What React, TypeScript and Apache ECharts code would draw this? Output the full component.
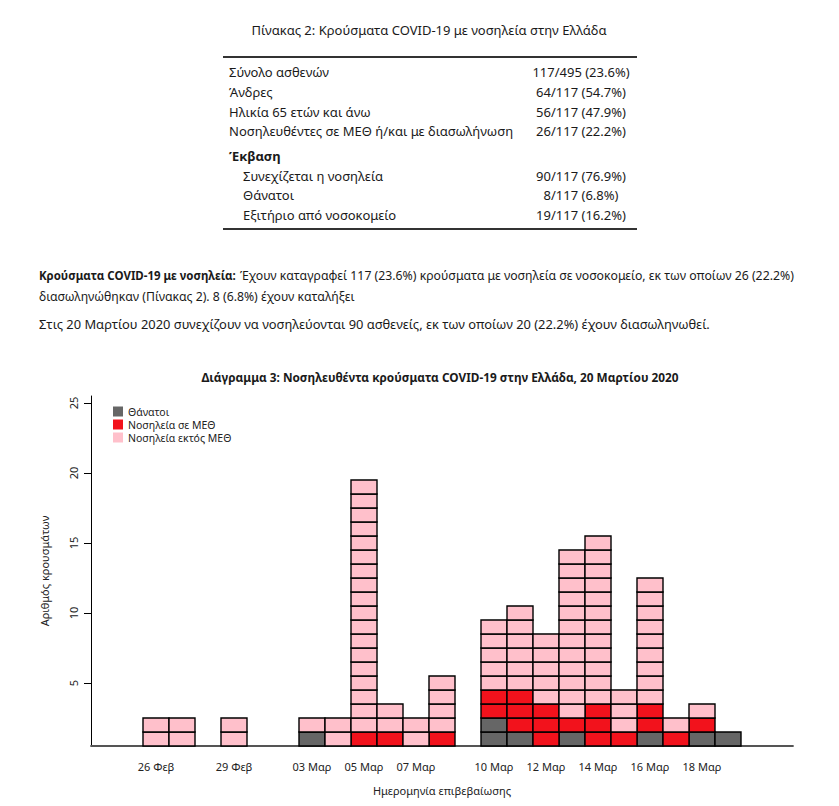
import React, { useEffect, useRef } from "react";
import * as echarts from "echarts";

const FONT = "'Noto Sans', 'Open Sans', sans-serif";

const dates = ["24 Φεβ", "25 Φεβ", "26 Φεβ", "27 Φεβ", "28 Φεβ", "29 Φεβ", "01 Μαρ", "02 Μαρ", "03 Μαρ", "04 Μαρ", "05 Μαρ", "06 Μαρ", "07 Μαρ", "08 Μαρ", "09 Μαρ", "10 Μαρ", "11 Μαρ", "12 Μαρ", "13 Μαρ", "14 Μαρ", "15 Μαρ", "16 Μαρ", "17 Μαρ", "18 Μαρ", "19 Μαρ", "20 Μαρ", "21 Μαρ"];
const shownLabels = ["26 Φεβ", "29 Φεβ", "03 Μαρ", "05 Μαρ", "07 Μαρ", "10 Μαρ", "12 Μαρ", "14 Μαρ", "16 Μαρ", "18 Μαρ"];
const deaths = [0, 0, 0, 0, 0, 0, 0, 0, 1, 0, 0, 0, 0, 0, 0, 2, 1, 0, 1, 0, 0, 1, 0, 1, 1, 0, 0];
const icu = [0, 0, 0, 0, 0, 0, 0, 0, 0, 0, 1, 1, 0, 1, 0, 2, 3, 3, 1, 3, 1, 2, 1, 1, 0, 0, 0];
const nonIcu = [0, 0, 2, 2, 0, 2, 0, 0, 1, 2, 18, 2, 2, 4, 0, 5, 6, 5, 12, 12, 3, 9, 1, 1, 0, 0, 0];
const yTicks = [5, 10, 15, 20, 25];

const seriesNames = ["Θάνατοι", "Νοσηλεία σε ΜΕΘ", "Νοσηλεία εκτός ΜΕΘ"];
const seriesColors = ["#666666", "#F2121C", "#FFC0CB"];

const tableTitle = "Πίνακας 2: Κρούσματα COVID-19 με νοσηλεία στην Ελλάδα";
const tableLabels = ["Σύνολο ασθενών", "Άνδρες", "Ηλικία 65 ετών και άνω", "Νοσηλευθέντες σε ΜΕΘ ή/και με διασωλήνωση", "Έκβαση", "Συνεχίζεται η νοσηλεία", "Θάνατοι", "Εξιτήριο από νοσοκομείο"];
const tableValues = ["117/495 (23.6%)", "64/117 (54.7%)", "56/117 (47.9%)", "26/117 (22.2%)", "", "90/117 (76.9%)", "8/117 (6.8%)", "19/117 (16.2%)"];

const para1Bold = "Κρούσματα COVID-19 με νοσηλεία:";
const para1Rest = "Έχουν καταγραφεί 117 (23.6%) κρούσματα με νοσηλεία σε νοσοκομείο, εκ των οποίων 26 (22.2%)";
const para1Line2 = "διασωληνώθηκαν (Πίνακας 2). 8 (6.8%) έχουν καταλήξει";
const para2 = "Στις 20 Μαρτίου 2020 συνεχίζουν να νοσηλεύονται 90 ασθενείς, εκ των οποίων 20 (22.2%) έχουν διασωληνωθεί.";
const chartTitle = "Διάγραμμα 3: Νοσηλευθέντα κρούσματα COVID-19 στην Ελλάδα, 20 Μαρτίου 2020";

function buildCells(): number[][][] {
  const out: number[][][] = [[], [], []];
  for (let i = 0; i < dates.length; i++) {
    let level = 0;
    const counts = [deaths[i], icu[i], nonIcu[i]];
    for (let s = 0; s < 3; s++) {
      for (let k = 0; k < counts[s]; k++) {
        level += 1;
        out[s].push([i, level]);
      }
    }
  }
  return out;
}

function txt(x: number, y: number, text: string, opts: any = {}) {
  const { scaleX = 1, align = "left", fontSize = 13, fontWeight = "normal" } = opts;
  return {
    type: "text",
    x,
    y,
    scaleX,
    silent: true,
    style: {
      text,
      x: 0,
      y: 0,
      align,
      verticalAlign: "middle",
      fontSize,
      fontWeight,
      fontFamily: FONT,
      fill: "#1a1a1a",
    },
  };
}

export default function App() {
  const ref = useRef<HTMLDivElement>(null);
  useEffect(() => {
    if (!ref.current) return;
    const chart = echarts.init(ref.current, undefined, { renderer: "svg" });
    const cells = buildCells();
    const rowYs = [72, 91.5, 111.5, 131, 155.5, 175.5, 195, 214.5];
    const graphics: any[] = [];
    graphics.push(txt(429, 30, tableTitle, { align: "center" }));
    graphics.push({ type: "line", silent: true, shape: { x1: 223, y1: 57, x2: 637, y2: 57 }, style: { stroke: "#333", lineWidth: 1.8 } });
    graphics.push({ type: "line", silent: true, shape: { x1: 223, y1: 229, x2: 637, y2: 229 }, style: { stroke: "#333", lineWidth: 1.8 } });
    tableLabels.forEach((lab, i) => {
      const indent = i >= 5 ? 243 : 229;
      graphics.push(txt(indent, rowYs[i], lab, { fontWeight: i === 4 ? "bold" : "normal" }));
      if (tableValues[i]) graphics.push(txt(581, rowYs[i], tableValues[i], { align: "center" }));
    });
    graphics.push(txt(39, 275, para1Bold, { scaleX: 0.92, fontSize: 12.5, fontWeight: "bold" }));
    graphics.push(txt(240, 275, para1Rest, { scaleX: 0.983, fontSize: 12.5 }));
    graphics.push(txt(39, 296, para1Line2, { scaleX: 0.98, fontSize: 12.5 }));
    graphics.push(txt(39, 324, para2, { scaleX: 1.032, fontSize: 12.5 }));
    graphics.push(txt(440, 377, chartTitle, { align: "center", fontWeight: "bold", fontSize: 12.5, scaleX: 0.945 }));

    const option: any = {
      animation: false,
      backgroundColor: "#ffffff",
      textStyle: { fontFamily: FONT },
      grid: { left: 91, top: 396, width: 702, height: 350, containLabel: false },
      legend: {
        orient: "vertical",
        left: 108,
        top: 401,
        itemWidth: 10,
        itemHeight: 10,
        itemGap: 2,
        icon: "rect",
        data: seriesNames,
        itemStyle: { borderWidth: 0 },
        textStyle: { fontSize: 10.5, color: "#222", fontFamily: FONT },
      },
      xAxis: {
        type: "category",
        data: dates,
        boundaryGap: true,
        axisLine: { show: true, lineStyle: { color: "#555", width: 1.8 } },
        axisTick: { show: false },
        axisLabel: {
          interval: (_i: number, v: string) => shownLabels.indexOf(v) >= 0,
          margin: 15,
          fontSize: 11,
          color: "#222",
          fontFamily: FONT,
        },
        name: "Ημερομηνία επιβεβαίωσης",
        nameLocation: "middle",
        nameGap: 39,
        nameTextStyle: { fontSize: 11, color: "#222", fontFamily: FONT },
        splitLine: { show: false },
      },
      yAxis: {
        type: "value",
        min: 0.5,
        max: 25.5,
        axisLine: { show: true, lineStyle: { color: "#000", width: 1 } },
        axisTick: { show: true, customValues: yTicks, length: 7, lineStyle: { color: "#000", width: 1 } },
        axisLabel: { customValues: yTicks, rotate: 90, margin: 12, fontSize: 11, color: "#222", fontFamily: FONT },
        splitLine: { show: false },
        name: "Αριθμός κρουσμάτων",
        nameLocation: "middle",
        nameGap: 41,
        nameTextStyle: { fontSize: 11, color: "#222", fontFamily: FONT },
      },
      series: seriesNames.map((name, s) => ({
        name,
        type: "custom",
        data: cells[s],
        encode: { x: 0, y: 1 },
        itemStyle: { color: seriesColors[s] },
        renderItem: (_p: any, api: any) => {
          const c = api.coord([api.value(0), api.value(1) - 0.5]);
          const sz = api.size([1, 1]);
          return {
            type: "rect",
            shape: { x: c[0] - sz[0] / 2, y: c[1] - sz[1], width: sz[0], height: sz[1] },
            style: { fill: seriesColors[s], stroke: "#000", lineWidth: 1.4 },
          };
        },
      })),
      graphic: graphics,
    };
    chart.setOption(option);
    return () => chart.dispose();
  }, []);
  return (
    <div
      ref={ref}
      style={{ position: "absolute", left: 0, top: 0, width: 839, height: 806, background: "#fff" }}
    />
  );
}
